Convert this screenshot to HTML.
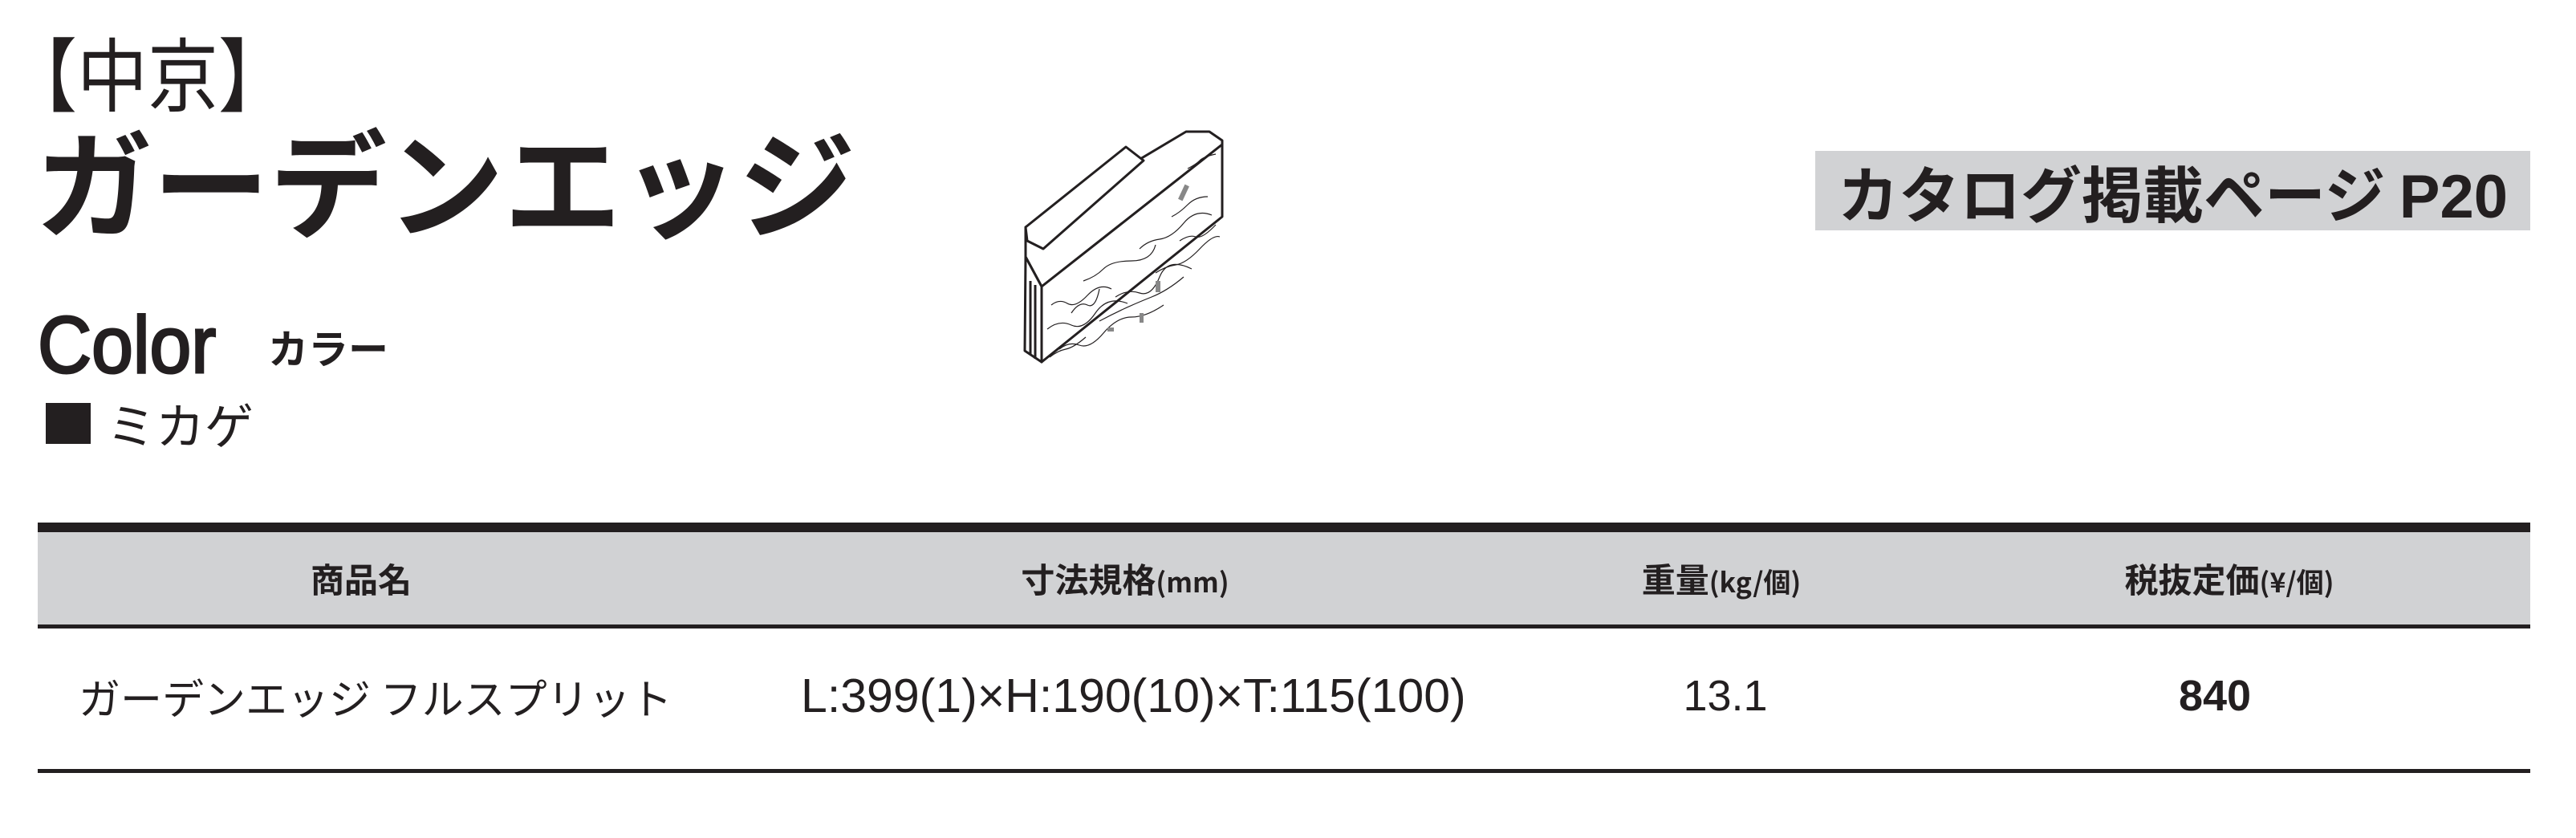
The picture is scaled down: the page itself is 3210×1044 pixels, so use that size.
<!DOCTYPE html>
<html><head><meta charset="utf-8">
<style>
html,body{margin:0;padding:0;background:#fff;}
body{width:3210px;height:1044px;position:relative;overflow:hidden;color:#231f20;font-family:"Liberation Sans","Noto Sans CJK JP",sans-serif;}
.a{position:absolute;white-space:nowrap;line-height:1;}
.c{text-align:center;}
.b{font-weight:bold;}
</style></head><body>
<div class="a" style="left:8px;top:38px;font-size:100px;transform:scaleX(0.88);transform-origin:left top;font-family:'Noto Sans CJK JP',sans-serif;">【中京】</div>
<div class="a b" style="left:44px;top:150px;font-size:146px;font-family:'Noto Sans CJK JP',sans-serif;">ガーデンエッジ</div>
<div class="a" style="left:47px;top:380px;font-size:100px;transform:scaleX(0.93);transform-origin:left top;-webkit-text-stroke:3px #231f20;">Color</div>
<div class="a b" style="left:334px;top:407px;font-size:50px;font-family:'Noto Sans CJK JP',sans-serif;">カラー</div>
<div class="a" style="left:57px;top:502px;width:56px;height:51px;background:#231f20;"></div>
<div class="a" style="left:133px;top:496px;font-size:61px;font-family:'Noto Sans CJK JP',sans-serif;">ミカゲ</div>

<svg class="a" style="left:1240px;top:150px" width="320" height="320" viewBox="0 0 320 320" fill="#fff" stroke="#231f20" stroke-width="3" stroke-linejoin="round">
<polygon points="38,133 238,14 267,14 283,25 283,30 58,207 38,170"/>
<polygon points="38,133 163,33 185,50 60,160 40,150"/>
<polygon points="38,170 58,207 58,301 37,287"/>
<line x1="50" y1="205" x2="50" y2="297"/>
<line x1="44" y1="200" x2="44" y2="292"/>
<polygon points="58,207 283,30 283,120 58,301"/>
<g stroke-width="1.2" fill="none">
<path d="M70,230 q10,-8 20,-2 t25,-10 t30,-8"/>
<path d="M65,260 q15,-12 30,-5 t30,-15 t40,-12"/>
<path d="M80,285 q12,-10 25,-5 t30,-15 t35,-20 t40,-15"/>
<path d="M110,200 q15,-5 25,-15 t35,-10 t30,-20"/>
<path d="M150,220 q15,-10 30,-5 t25,-20 t40,-10"/>
<path d="M180,160 q10,-10 25,-12 t30,-20 t35,-10"/>
<path d="M200,190 q12,-8 25,-10 t30,-20 t25,-15"/>
<path d="M130,250 q15,-8 30,-15 t35,-15 t40,-25"/>
<path d="M95,240 q10,-15 20,-10 t15,-20"/>
<path d="M220,120 q10,-5 20,-15 t25,-10"/>
<path d="M240,60 q10,-5 15,-10 t20,-8"/>
<path d="M230,150 q12,-8 20,-5 t25,-15"/>
<path d="M68,295 q10,-8 20,-10 t25,-15"/>
</g>
<g fill="#888" stroke="none">
<rect x="232" y="80" width="6" height="20" transform="rotate(25 235 90)"/>
<rect x="200" y="200" width="6" height="14"/>
<rect x="140" y="258" width="8" height="5"/>
<rect x="180" y="240" width="5" height="12"/>
</g>
</svg>

<div class="a" style="left:2262px;top:188px;width:891px;height:99px;background:#d1d2d4;"></div>
<div class="a b c" style="left:2262px;top:200px;width:891px;font-size:76px;line-height:76px;font-family:'Noto Sans CJK JP',sans-serif;">カタログ掲載ページ <span style="font-family:'Liberation Sans',sans-serif;">P20</span></div>

<div class="a" style="left:47px;top:651px;width:3106px;height:12px;background:#231f20;"></div>
<div class="a" style="left:47px;top:663px;width:3106px;height:115px;background:#d1d2d4;"></div>
<div class="a" style="left:47px;top:778px;width:3106px;height:5px;background:#231f20;"></div>
<div class="a" style="left:47px;top:958px;width:3106px;height:5px;background:#231f20;"></div>

<div class="a b c" style="left:250px;top:700px;width:400px;font-size:42px;font-family:'Noto Sans CJK JP',sans-serif;">商品名</div>
<div class="a b c" style="left:1152px;top:700px;width:500px;font-size:42px;font-family:'Noto Sans CJK JP',sans-serif;">寸法規格<span style="font-size:34px;">(mm)</span></div>
<div class="a b c" style="left:1895px;top:700px;width:500px;font-size:42px;font-family:'Noto Sans CJK JP',sans-serif;">重量<span style="font-size:34px;">(kg/個)</span></div>
<div class="a b c" style="left:2528px;top:700px;width:500px;font-size:42px;font-family:'Noto Sans CJK JP',sans-serif;">税抜定価<span style="font-size:34px;">(¥/個)</span></div>

<div class="a" style="left:98px;top:842px;font-size:52px;font-family:'Noto Sans CJK JP',sans-serif;">ガーデンエッジ フルスプリット</div>
<div class="a c" style="left:998px;top:838px;width:800px;font-size:59px;">L:399(1)×H:190(10)×T:115(100)</div>
<div class="a c" style="left:1950px;top:840px;width:400px;font-size:54px;">13.1</div>
<div class="a b c" style="left:2560px;top:840px;width:400px;font-size:54px;">840</div>
</body></html>
